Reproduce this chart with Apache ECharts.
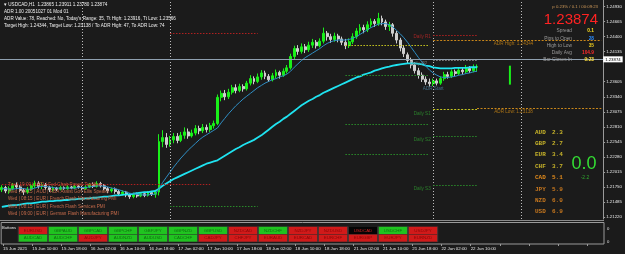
<!DOCTYPE html>
<html><head><meta charset="utf-8">
<script src="https://cdn.jsdelivr.net/npm/echarts@6/dist/echarts.min.js"></script>
<style>html,body{margin:0;padding:0;background:#1b1b1b;}#c{width:625px;height:254px;}</style>
</head><body><div id="c"></div>
<script>
// ---------- data ----------
const timeLabels = ["15 Jun 2021","15 Jun 10:00","15 Jun 18:00","16 Jun 02:00","16 Jun 10:00","16 Jun 18:00",
  "17 Jun 02:00","17 Jun 10:00","17 Jun 18:00","18 Jun 02:00","18 Jun 10:00","18 Jun 18:00",
  "21 Jun 02:00","21 Jun 10:00","21 Jun 18:00","22 Jun 02:00","22 Jun 10:00"];
const priceTicks = [1.21220,1.21485,1.21750,1.22015,1.22280,1.22545,1.22810,1.23075,1.23340,1.23605,1.24135,1.24400,1.24665,1.24930];
const lastPrice = 1.23874;
// [open, close, low, high]
const candles = [
[1.2170,1.2174,1.2166,1.2178],[1.2174,1.2168,1.2164,1.2177],[1.2168,1.2172,1.2163,1.2176],[1.2172,1.2178,1.2169,1.2182],
[1.2178,1.2175,1.2171,1.2183],[1.2175,1.2169,1.2166,1.2178],[1.2169,1.2166,1.2161,1.2173],[1.2166,1.2171,1.2163,1.2175],
[1.2171,1.2177,1.2168,1.2180],[1.2177,1.2181,1.2173,1.2186],[1.2181,1.2176,1.2172,1.2185],[1.2176,1.2179,1.2171,1.2183],
[1.2179,1.2174,1.2170,1.2182],[1.2174,1.2170,1.2166,1.2177],[1.2170,1.2173,1.2167,1.2176],[1.2173,1.2171,1.2168,1.2175],
[1.2171,1.2174,1.2169,1.2177],[1.2174,1.2172,1.2170,1.2176],[1.2172,1.2175,1.2170,1.2178],[1.2175,1.2173,1.2171,1.2177],
[1.2173,1.2176,1.2171,1.2179],[1.2176,1.2174,1.2172,1.2178],[1.2174,1.2172,1.2169,1.2177],[1.2172,1.2175,1.2170,1.2178],
[1.2175,1.2179,1.2173,1.2182],[1.2179,1.2176,1.2173,1.2183],[1.2176,1.2181,1.2174,1.2185],[1.2181,1.2177,1.2174,1.2184],
[1.2177,1.2172,1.2169,1.2180],[1.2172,1.2168,1.2164,1.2175],[1.2168,1.2171,1.2165,1.2174],[1.2171,1.2167,1.2163,1.2174],
[1.2167,1.2163,1.2159,1.2170],[1.2163,1.2166,1.2160,1.2169],[1.2166,1.2161,1.2157,1.2168],[1.2161,1.2158,1.2154,1.2164],
[1.2158,1.2162,1.2155,1.2165],[1.2162,1.2159,1.2156,1.2165],[1.2159,1.2163,1.2157,1.2166],[1.2163,1.2160,1.2157,1.2166],
[1.2160,1.2165,1.2158,1.2168],[1.2165,1.2162,1.2159,1.2168],[1.2162,1.2166,1.2156,1.2170],[1.2166,1.2255,1.2160,1.2268],
[1.2255,1.2262,1.2245,1.2275],[1.2262,1.2250,1.2244,1.2270],[1.2250,1.2258,1.2246,1.2265],[1.2258,1.2264,1.2252,1.2270],
[1.2264,1.2257,1.2252,1.2270],[1.2257,1.2266,1.2254,1.2272],[1.2266,1.2272,1.2260,1.2280],[1.2272,1.2265,1.2260,1.2278],
[1.2265,1.2270,1.2262,1.2276],[1.2270,1.2278,1.2266,1.2284],[1.2278,1.2274,1.2268,1.2283],[1.2274,1.2280,1.2270,1.2286],
[1.2280,1.2276,1.2271,1.2285],[1.2276,1.2283,1.2272,1.2288],[1.2283,1.2287,1.2278,1.2292],[1.2287,1.2333,1.2284,1.2338],
[1.2333,1.2340,1.2326,1.2345],[1.2340,1.2334,1.2328,1.2346],[1.2334,1.2342,1.2330,1.2348],[1.2342,1.2350,1.2338,1.2355],
[1.2350,1.2345,1.2340,1.2356],[1.2345,1.2352,1.2342,1.2357],[1.2352,1.2348,1.2343,1.2356],[1.2348,1.2358,1.2345,1.2362],
[1.2358,1.2366,1.2354,1.2372],[1.2366,1.2361,1.2356,1.2370],[1.2361,1.2369,1.2358,1.2375],[1.2369,1.2376,1.2364,1.2381],
[1.2376,1.2370,1.2365,1.2380],[1.2370,1.2364,1.2360,1.2374],[1.2364,1.2371,1.2361,1.2376],[1.2371,1.2377,1.2367,1.2382],
[1.2377,1.2372,1.2366,1.2380],[1.2372,1.2379,1.2369,1.2384],[1.2379,1.2385,1.2375,1.2390],[1.2385,1.2405,1.2382,1.2410],
[1.2405,1.2419,1.2400,1.2424],[1.2419,1.2414,1.2408,1.2425],[1.2414,1.2422,1.2410,1.2428],[1.2422,1.2417,1.2411,1.2427],
[1.2417,1.2425,1.2413,1.2431],[1.2425,1.2430,1.2420,1.2436],[1.2430,1.2424,1.2419,1.2434],[1.2424,1.2432,1.2421,1.2437],
[1.2432,1.2446,1.2428,1.2456],[1.2446,1.2440,1.2433,1.2450],[1.2440,1.2435,1.2429,1.2445],[1.2435,1.2441,1.2431,1.2447],
[1.2441,1.2436,1.2430,1.2445],[1.2436,1.2430,1.2425,1.2440],[1.2430,1.2424,1.2418,1.2436],[1.2424,1.2431,1.2420,1.2437],
[1.2431,1.2440,1.2427,1.2446],[1.2440,1.2450,1.2436,1.2455],[1.2450,1.2456,1.2445,1.2462],[1.2456,1.2452,1.2446,1.2461],
[1.2452,1.2461,1.2448,1.2467],[1.2461,1.2467,1.2456,1.2472],[1.2467,1.2463,1.2457,1.2471],[1.2463,1.2472,1.2459,1.2482],
[1.2472,1.2466,1.2460,1.2477],[1.2466,1.2458,1.2452,1.2470],[1.2458,1.2461,1.2450,1.2466],[1.2461,1.2446,1.2440,1.2464],
[1.2446,1.2434,1.2428,1.2450],[1.2434,1.2420,1.2414,1.2438],[1.2420,1.2410,1.2404,1.2425],[1.2408,1.2398,1.2392,1.2412],
[1.2398,1.2390,1.2384,1.2403],[1.2390,1.2380,1.2375,1.2395],[1.2380,1.2372,1.2366,1.2385],[1.2372,1.2365,1.2360,1.2377],
[1.2365,1.2360,1.2355,1.2370],[1.2360,1.2357,1.2352,1.2366],[1.2357,1.2362,1.2353,1.2366],[1.2362,1.2358,1.2354,1.2366],
[1.2358,1.2366,1.2355,1.2370],[1.2366,1.2373,1.2362,1.2378],[1.2373,1.2370,1.2366,1.2378],[1.2370,1.2378,1.2367,1.2382],
[1.2378,1.2375,1.2370,1.2382],[1.2375,1.2381,1.2372,1.2385],[1.2381,1.2378,1.2373,1.2385],[1.2378,1.2384,1.2375,1.2390],
[1.2384,1.2380,1.2376,1.2388],[1.2380,1.2386,1.2377,1.2391],[1.2386,1.23874,1.2378,1.2391]
];
const slowMA = [1.2140,1.2141,1.2142,1.2143,1.2143,1.2144,1.2145,1.2146,1.2146,1.2147,1.2148,
1.2149,1.2149,1.2150,1.2150,1.2151,1.2151,1.2152,1.2152,1.2153,1.2153,1.2154,1.2154,1.2155,1.2155,1.2156,1.2156,1.2157,
1.2158,1.2158,1.2159,1.2160,1.2160,1.2161,1.2162,1.2162,1.2163,1.2164,1.2165,1.2166,1.2166,1.2167,1.2168,
1.2172,1.2177,1.2181,1.2185,1.2189,1.2192,1.2195,1.2198,
1.2201,1.2204,1.2207,1.2210,1.2213,1.2216,1.2218,1.2220,1.2222,1.2226,
1.2230,1.2234,1.2238,1.2242,1.2245,1.2249,1.2252,1.2255,1.2258,1.2262,
1.2266,1.2271,1.2276,1.2281,1.2286,1.2290,1.2295,1.2299,1.2304,1.2309,1.2314,1.2319,
1.2323,1.2327,1.2330,1.2334,1.2337,1.2341,1.2344,1.2347,1.2350,1.2353,1.2356,1.2359,1.2362,
1.2365,1.2368,1.2370,1.2373,1.2375,1.2377,1.2380,1.2382,
1.2384,1.2386,1.2387,1.2389,1.2390,1.2391,1.2392,1.2393,1.2393,1.2393,
1.2392,1.2391,1.2389,1.2388,1.2386,1.2385,1.2384,
1.2384,1.2384,1.2384,1.2385,1.2385,1.2385,1.2385,1.2386,1.2386,1.2386];
const fastMA = [1.2172,1.2172,1.2171,1.2171,1.2172,1.2173,1.2172,1.2171,1.2171,1.2173,1.2175,1.2176,1.2176,1.2175,1.2174,
1.2173,1.2173,1.2173,1.2173,1.2173,1.2173,1.2174,1.2174,1.2174,1.2175,1.2176,1.2177,1.2177,1.2176,1.2175,1.2173,1.2172,
1.2170,1.2168,1.2166,1.2164,1.2163,1.2162,1.2161,1.2161,1.2161,1.2162,1.2162,
1.2172,1.2183,1.2192,1.2201,1.2210,1.2218,1.2226,1.2233,1.2240,1.2246,1.2252,1.2258,1.2263,1.2267,1.2271,1.2275,1.2279,1.2288,
1.2296,1.2304,1.2311,1.2318,1.2324,1.2330,1.2335,1.2340,1.2345,1.2350,1.2354,1.2358,1.2361,1.2364,1.2366,1.2369,1.2371,1.2374,1.2379,1.2386,
1.2392,1.2398,1.2403,1.2407,1.2411,1.2415,1.2419,1.2424,1.2428,1.2431,1.2433,1.2434,1.2434,1.2434,1.2435,1.2437,1.2440,1.2444,1.2448,1.2452,1.2456,1.2459,1.2462,
1.2463,1.2463,1.2461,1.2457,1.2451,1.2445,1.2438,1.2430,1.2421,1.2412,1.2403,1.2395,1.2388,1.2381,1.2376,1.2372,1.2369,
1.2368,1.2368,1.2369,1.2370,1.2372,1.2373,1.2375,1.2376,1.2378,1.2379];
const daySeparators = [22, 46, 118, 142];
const spikeBar = [[139, 1.23554], [139, 1.23888]];
const adrHigh = 1.24344, adrLow = 1.23138;
// [fromBar, toBar, price]
const r1Lines = [[118, 130, 1.24432], [0, 57, 1.21800], [46, 70, 1.24467]];
const ppLines = [[118, 130, 1.23975]];
const s1Lines = [[118, 130, 1.23115]];
const sLines  = [[118, 130, 1.22642], [118, 130, 1.21782], [94, 117, 1.23712], [94, 117, 1.22852], [94, 117, 1.22326], [46, 70, 1.21405]];
const prevR1  = [[94, 117, 1.24256]];
const adrLines = [[118, 164, adrHigh], [130, 164, adrLow]];
// [text, bar, price]
const chartTexts = [["Daily R1",115,1.24397],["Daily PP",114,1.23923],["ADR Start",118,1.23484],["Daily S1",115,1.23045],
  ["Daily S2",115,1.22589],["Daily S3",115,1.21711],["ADR High: 1.24344",140,1.24274],["ADR Low: 1.23138",140,1.23080]];
const newsRows = ["Tue | 19:00 | USD | Fed Chair Powell Testifies","Wed | 04:15 | AUD | RBA Assist Gov Ellis Speaks",
  "Wed | 08:15 | EUR | French Flash Manufacturing PMI","Wed | 08:15 | EUR | French Flash Services PMI",
  "Wed | 09:00 | EUR | German Flash Manufacturing PMI"];
const headerRows = ["USDCAD,H1  1.23865 1.23911 1.23780 1.23874","ADR 1.00 20051027 01 Mod 01",
  "ADR Value: 78, Reached: No, Today's Range: 35, Tt High: 1.23916, Tt Low: 1.23566",
  "Target High: 1.24344, Target Low: 1.23138 / To ADR High: 47, To ADR Low: 74"];
const infoLabels = ["Spread","Pips to Open","High to Low","Daily Avg","Bar Closes In"];
const infoValues = ["0.1","28","35","104.9","9:23"];
const currencies = ["AUD","GBP","EUR","CHF","CAD","JPY","NZD","USD"];
const strength = ["2.3","2.7","3.4","3.7","5.1","5.9","6.0","6.9"];
const buttonRows = [
  ["EURUSD","GBPAUD","GBPCAD","GBPCHF","GBPJPY","GBPNZD","GBPUSD","NZDCAD","NZDCHF","NZDJPY","NZDUSD","USDCAD","USDCHF","USDJPY"],
  ["AUDCAD","AUDCHF","AUDJPY","AUDNZD","AUDUSD","CADCHF","CADJPY","CHFJPY","EURAUD","EURCAD","EURCHF","EURGBP","EURJPY","EURNZD"]];
const buttonStates = [
  ["r","g","g","g","g","g","g","r","g","r","r","k","g","r"],
  ["g","g","r","g","g","g","r","r","r","r","r","r","r","r"]];

// ---------- styles / build ----------
const NS = 165;
const cats = Array.from({length: NS}, (_, i) => String(i));
const F = 'Liberation Sans';
const seg = (arr, color, type) => arr.map(a => [
  {coord: [a[0], a[2]], lineStyle: {color, type, width: 1}}, {coord: [a[1], a[2]]}]);
const txt = (x, y, text, fill, size, align, weight, family) => ({type: 'text', x, y, silent: true, z: 100,
  style: {text, fill, fontSize: size, fontFamily: family || F, fontWeight: weight || 'normal',
    align: align || 'left', textAlign: align || 'left', verticalAlign: 'middle', textVerticalAlign: 'middle'}});
const labelColors = {"Daily R1":"#c02828","Daily PP":"#7c7c7c","ADR Start":"#4f86a8","ADR High: 1.24344":"#d08a14","ADR Low: 1.23138":"#d08a14"};
const btnFill = {r: '#ff1a1a', g: '#22ee22', k: '#000000'};
const btnText = {r: '#7a0000', g: '#0a5a0a', k: '#ff2a2a'};
const curColors = ["#c8b42a","#c8b42a","#c8b42a","#c8b42a","#e08a1c","#c8781e","#c8781e","#c8781e"];

const graphics = [];
headerRows.forEach((t, i) => graphics.push(txt(4, 5 + i * 7, (i === 0 ? '\u25BE ' : '') + t, '#f0f0f0', 4.6)));
newsRows.forEach((t, i) => graphics.push(txt(8, 185 + i * 7.1, t, i === 0 ? '#c8503c' : '#c46a4a', 4.6)));
graphics.push(txt(598, 7, 'p 0.23% / 0.1 / 00:09:23', '#d09a5a', 4.3, 'right'));
graphics.push(txt(598, 20, '1.23874', '#ff2222', 15, 'right'));
infoLabels.forEach((t, i) => {
  graphics.push(txt(572, 31 + i * 7.2, t, '#9a9a9a', 4.8, 'right'));
  graphics.push(txt(594, 31 + i * 7.2, infoValues[i], ['#ffe020','#2a8cff','#e8c820','#ff2a2a','#ffe040'][i], 4.8, 'right', 'bold'));
});
currencies.forEach((c, i) => {
  graphics.push(txt(535, 132 + i * 11.4, c, curColors[i], 6, 'left', 'bold', 'Liberation Mono'));
  graphics.push(txt(552, 132 + i * 11.4, strength[i], curColors[i], 6, 'left', 'bold', 'Liberation Mono'));
});
graphics.push(txt(584, 164, '0.0', '#33dd33', 18, 'center'));
graphics.push(txt(585, 178, '-2.2', '#2fa82f', 5, 'center'));
graphics.push(txt(2, 228, 'Buttons', '#e8e8e8', 4.2));
graphics.push(txt(607, 229, '0', '#e0e0e0', 4.2));
graphics.push(txt(607, 242, '0', '#e0e0e0', 4.2));
graphics.push({type: 'line', shape: {x1: 0, y1: 220.5, x2: 604, y2: 220.5}, style: {stroke: '#8a8a8a', lineWidth: 1}, silent: true});

const btnData = [];
buttonRows.forEach((row, r) => row.forEach((name, c) => btnData.push({
  value: [c, r], name, itemStyle: {color: btnFill[buttonStates[r][c]], borderColor: '#3a3a3a', borderWidth: 0.6},
  label: {color: btnText[buttonStates[r][c]]}})));

const markData = [
  ...daySeparators.map(b => ({xAxis: b, lineStyle: {color: '#bdbdbd', type: [1, 2], width: 1}, label: {show: false}})),
  {yAxis: lastPrice, lineStyle: {color: '#8fa0b0', type: 'solid', width: 1},
    label: {show: true, position: 'end', distance: 0, formatter: '1.23874', backgroundColor: '#ffffff', color: '#000',
      fontSize: 4.3, fontFamily: F, padding: [1, 2, 1, 2]}},
  ...seg(r1Lines, '#b02020', [1.5, 1.5]),
  ...seg(ppLines, '#8a8a8a', [1.5, 1.5]),
  ...seg(s1Lines, '#c8c820', [2, 1.5]),
  ...seg(sLines, '#2a8a2a', [1.5, 1.5]),
  ...seg(prevR1, '#c8c820', [1.5, 1.5]),
  ...seg(adrLines, '#c8861a', [2, 1.5])
];

const option = {
  backgroundColor: '#1b1b1b',
  animation: false,
  graphic: graphics,
  grid: [
    {left: 0, width: 604, top: 0, height: 219},
    {left: 0, width: 604, top: 222.5, height: 21.5, show: true, borderColor: '#9a9a9a', borderWidth: 1},
    {left: 18, width: 420, top: 226.5, height: 15.5}
  ],
  xAxis: [
    {gridIndex: 0, type: 'category', data: cats, boundaryGap: true, axisLine: {show: false}, axisTick: {show: false}, axisLabel: {show: false}, splitLine: {show: false}},
    {gridIndex: 1, type: 'category', data: cats, boundaryGap: true, axisLine: {show: false},
      axisTick: {show: true, interval: 7, alignWithLabel: true, length: 2, lineStyle: {color: '#9a9a9a'}},
      axisLabel: {show: true, interval: 7, align: 'left', margin: 3, color: '#e6e6e6', fontSize: 4.4, fontFamily: F,
        formatter: (v, idx) => timeLabels[idx / 8] || ''}},
    {gridIndex: 2, type: 'category', data: buttonRows[0].map((_, i) => i), show: false}
  ],
  yAxis: [
    {gridIndex: 0, type: 'value', position: 'right', min: 1.21185, max: 1.25046, splitLine: {show: false},
      axisLine: {show: true, lineStyle: {color: '#9a9a9a'}},
      axisTick: {show: true, customValues: priceTicks, length: 2, inside: false, lineStyle: {color: '#9a9a9a'}},
      axisLabel: {show: true, customValues: priceTicks, formatter: v => v.toFixed(5), color: '#e6e6e6', fontSize: 4.4, fontFamily: F, margin: 3}},
    {gridIndex: 1, type: 'value', min: 0, max: 1, show: false},
    {gridIndex: 2, type: 'category', data: [0, 1], inverse: true, show: false}
  ],
  series: [
    {type: 'candlestick', xAxisIndex: 0, yAxisIndex: 0, data: candles, barWidth: 2.4,
      itemStyle: {color: '#19f019', color0: '#cfcfcf', borderColor: '#19f019', borderColor0: '#cfcfcf', borderWidth: 1},
      markLine: {symbol: 'none', silent: true, animation: false, data: markData}},
    {type: 'line', xAxisIndex: 0, yAxisIndex: 0, data: slowMA, symbol: 'none', lineStyle: {color: '#1fe3f0', width: 1.8}, z: 3},
    {type: 'line', xAxisIndex: 0, yAxisIndex: 0, data: fastMA, symbol: 'none', lineStyle: {color: '#2f8ec4', width: 1}, z: 3},
    {type: 'line', xAxisIndex: 0, yAxisIndex: 0, data: spikeBar, symbol: 'none', lineStyle: {color: '#19f019', width: 2}},
    {type: 'scatter', xAxisIndex: 0, yAxisIndex: 0, symbolSize: 0, z: 5,
      data: chartTexts.map(t => ({value: [t[1], t[2]], name: t[0],
        label: {color: labelColors[t[0]] || '#2f9a2f'}})),
      label: {show: true, position: 'inside', formatter: p => p.name, fontSize: 4.6, fontFamily: F}},
    {type: 'scatter', xAxisIndex: 2, yAxisIndex: 2, symbol: 'rect', symbolSize: [29.4, 7.4], data: btnData,
      label: {show: true, position: 'inside', formatter: p => p.name, fontSize: 4.4, fontFamily: F}}
  ]
};
echarts.init(document.getElementById('c'), null, {renderer: 'canvas'}).setOption(option);
</script></body></html>
